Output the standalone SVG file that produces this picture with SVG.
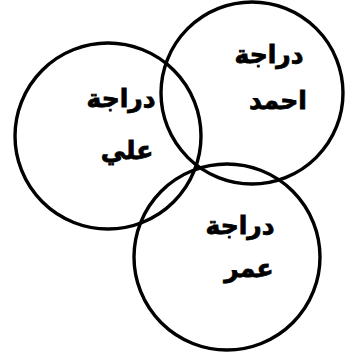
<svg xmlns="http://www.w3.org/2000/svg" width="353" height="361" viewBox="0 0 353 361">
<style>
.c{fill:none;stroke:#000;stroke-width:3.4}
.t{font-family:"DejaVu Sans","Noto Sans",sans-serif;font-weight:bold;font-size:25px;fill:#000;stroke:#000;stroke-width:0.8;text-anchor:middle;direction:rtl}
</style>
<rect width="353" height="361" fill="#fff"/>
<g id="ali"><circle class="c" cx="108" cy="136" r="93"/><text class="t" x="121" y="107">دراجة</text><text class="t" x="127" y="159">علي</text></g>
<g id="ahmad"><circle class="c" cx="252" cy="93" r="91"/><text class="t" x="269" y="63">دراجة</text><text class="t" x="278" y="109">احمد</text></g>
<g id="omar"><circle class="c" cx="227" cy="257" r="93"/><text class="t" x="240" y="234">دراجة</text><text class="t" x="249" y="277">عمر</text></g>
<g id="connectors"/>
</svg>
